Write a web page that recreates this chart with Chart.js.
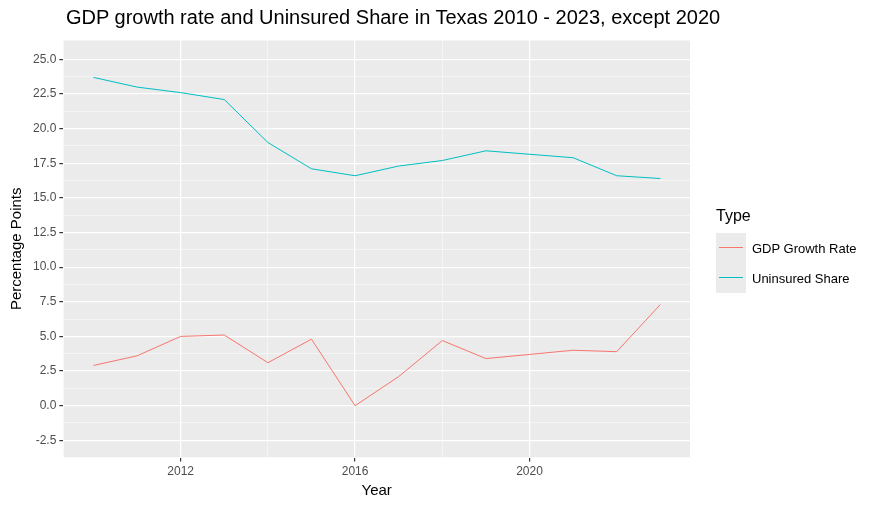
<!DOCTYPE html>
<html>
<head>
<meta charset="UTF-8">
<script src="https://cdn.jsdelivr.net/npm/chart.js"></script>
<style>
  body { margin: 0; background: #fff; font-family: Arial, "Liberation Sans", sans-serif; }
  .wrap { position: relative; width: 891px; height: 515px; }
  .title { position: absolute; left: 66px; top: 6px; font-size: 20px; color: #000; }
  .legend { position: absolute; left: 716px; top: 207px; font-size: 13px; color: #000; }
  .legend h4 { margin: 0 0 8px 0; font-size: 16px; font-weight: normal; }
  .item { display: flex; align-items: center; height: 30px; }
  .key { width: 30px; height: 30px; background: #ebebeb; position: relative; margin-right: 6px; }
  .key span { position: absolute; left: 3px; right: 3px; top: 14px; height: 1px; }
</style>
</head>
<body>
<div class="wrap">
  <canvas id="c" width="891" height="515"></canvas>
  <div class="title">GDP growth rate and Uninsured Share in Texas 2010 - 2023, except 2020</div>
  <div class="legend">
    <h4>Type</h4>
    <div class="item"><div class="key"><span style="background:#F8766D"></span></div>GDP Growth Rate</div>
    <div class="item"><div class="key"><span style="background:#00BFC4"></span></div>Uninsured Share</div>
  </div>
</div>
<script>
const years = [2010, 2011, 2012, 2013, 2014, 2015, 2016, 2017, 2018, 2019, 2021, 2022, 2023];
const gdpGrowth = [2.9, 3.6, 5.0, 5.1, 3.1, 4.8, 0.0, 2.1, 4.7, 3.4, 4.0, 3.9, 7.3];
const uninsured = [23.7, 23.0, 22.6, 22.1, 19.0, 17.1, 16.6, 17.3, 17.7, 18.4, 17.9, 16.6, 16.4];

const panelBg = {
  id: 'panelBg',
  beforeDraw(chart) {
    const a = chart.chartArea, ctx = chart.ctx;
    ctx.save();
    ctx.fillStyle = '#ebebeb';
    ctx.fillRect(a.left, a.top, a.right - a.left, a.bottom - a.top);
    ctx.restore();
  }
};

const pts = vals => years.map((y, i) => ({ x: y, y: vals[i] }));
const isMajorY = v => Math.abs(v / 2.5 - Math.round(v / 2.5)) < 1e-6;
const isMajorX = v => v % 4 === 0;

new Chart(document.getElementById('c'), {
  type: 'line',
  data: {
    datasets: [
      { label: 'GDP Growth Rate', data: pts(gdpGrowth), borderColor: '#F8766D', borderWidth: 1, pointRadius: 0, tension: 0 },
      { label: 'Uninsured Share', data: pts(uninsured), borderColor: '#00BFC4', borderWidth: 1, pointRadius: 0, tension: 0 }
    ]
  },
  options: {
    responsive: false,
    animation: false,
    layout: { padding: { left: 4, right: 201, top: 40, bottom: 11 } },
    plugins: { legend: { display: false }, tooltip: { enabled: false } },
    scales: {
      x: {
        type: 'linear', min: 2009.31, max: 2023.68,
        border: { display: false },
        grid: {
          color: '#fff', tickLength: 4,
          lineWidth: c => c.tick && isMajorX(c.tick.value) ? 1.2 : 0.5,
          tickColor: c => c.tick && isMajorX(c.tick.value) ? '#333' : 'rgba(0,0,0,0)'
        },
        ticks: { stepSize: 2, color: '#4d4d4d', font: { size: 12 }, callback: v => isMajorX(v) ? v : '' },
        title: { display: true, text: 'Year', color: '#000', font: { size: 15 }, padding: { top: 0 } }
      },
      y: {
        min: -3.75, max: 26.4,
        border: { display: false },
        grid: {
          color: '#fff', tickLength: 4,
          lineWidth: c => c.tick && isMajorY(c.tick.value) ? 1.2 : 0.5,
          tickColor: c => c.tick && isMajorY(c.tick.value) ? '#333' : 'rgba(0,0,0,0)'
        },
        ticks: { stepSize: 1.25, color: '#4d4d4d', font: { size: 12 }, callback: v => isMajorY(v) ? v.toFixed(1) : '' },
        title: { display: true, text: 'Percentage Points', color: '#000', font: { size: 15 } }
      }
    }
  },
  plugins: [panelBg]
});
</script>
</body>
</html>
